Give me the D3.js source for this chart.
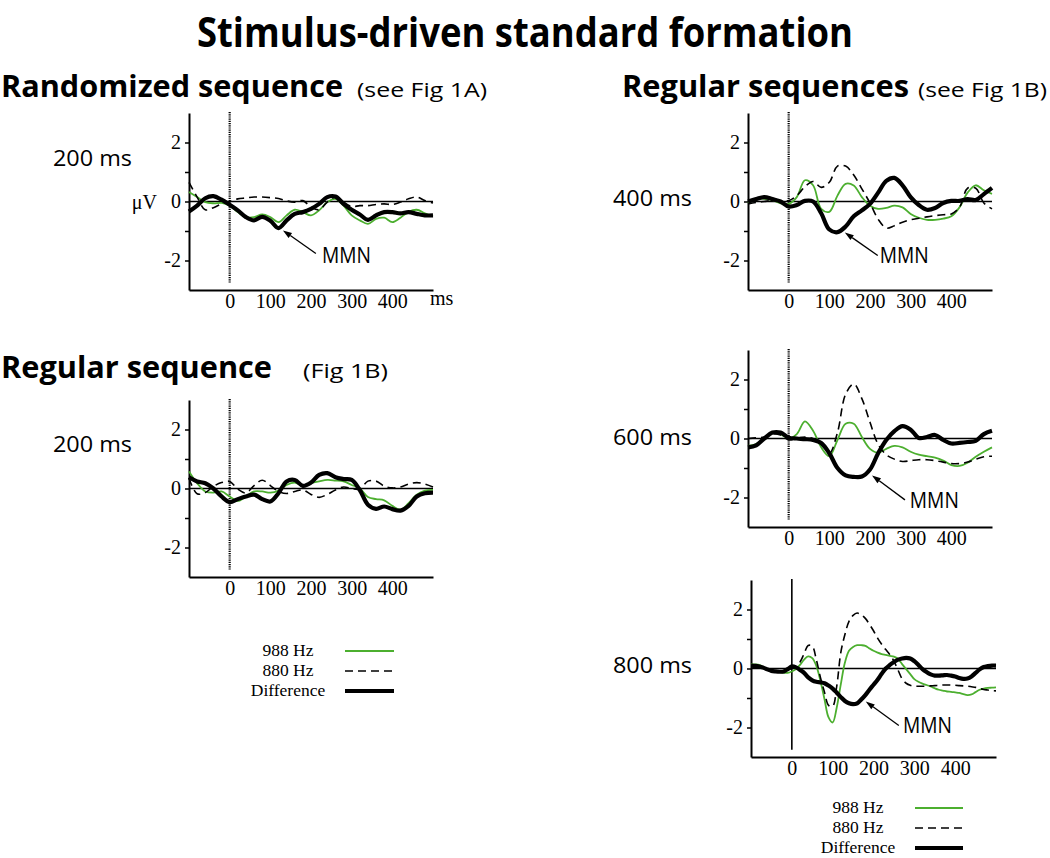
<!DOCTYPE html>
<html><head><meta charset="utf-8">
<script src="https://cdn.jsdelivr.net/npm/d3@7"></script>
<style>body{margin:0;background:#fff;} svg{display:block;}</style>
</head><body>
<svg id="chart" width="1050" height="858"></svg>
<script>
// ---------- data ----------
const t20 = [-100,-80,-60,-40,-20,0,20,40,60,80,100,120,140,160,180,200,220,240,260,280,300,320,340,360,380,400,420,440,460,480,500];
const t10 = [-100,-90,-80,-70,-60,-50,-40,-30,-20,-10,0,10,20,30,40,50,60,70,80,90,100,110,120,130,140,150,160,170,180,190,200,210,220,230,240,250,260,270,280,290,300,310,320,330,340,350,360,370,380,390,400,410,420,430,440,450,460,470,480,490,500];

const xTickValues = [0,100,200,300,400];
const yTickValues = [-2,-1,0,1,2];
const yTickLabels = ["-2","","0","","2"];

// Randomized sequence, 200 ms
const rand200_988 = [0.32,0.15,-0.02,-0.06,-0.05,-0.14,-0.36,-0.53,-0.53,-0.44,-0.53,-0.7,-0.47,-0.28,-0.36,-0.47,-0.3,-0.02,0.09,-0.14,-0.47,-0.64,-0.76,-0.59,-0.55,-0.7,-0.55,-0.35,-0.28,-0.4,-0.5];
const rand200_880 = [0.65,0.15,-0.28,-0.21,-0.08,0.0,0.09,0.12,0.15,0.15,0.13,0.1,0.02,-0.02,0.03,-0.19,-0.28,-0.02,0.15,-0.02,-0.17,-0.14,-0.14,-0.1,-0.08,-0.1,-0.02,0.09,0.15,0.03,-0.05];
const rand200_diff = [-0.34,-0.14,0.11,0.18,0.06,-0.11,-0.3,-0.53,-0.64,-0.52,-0.65,-0.9,-0.64,-0.42,-0.36,-0.25,-0.08,0.15,0.17,-0.08,-0.28,-0.44,-0.62,-0.47,-0.36,-0.36,-0.4,-0.36,-0.42,-0.47,-0.47];

// Regular sequence, 200 ms
const reg200_988 = [0.58,0.18,-0.1,-0.14,-0.1,-0.27,-0.42,-0.27,-0.1,-0.1,-0.14,-0.07,0.12,0.2,0.09,0.18,0.24,0.29,0.27,0.24,0.12,0.0,-0.29,-0.36,-0.4,-0.59,-0.72,-0.5,-0.21,-0.07,-0.05];
const reg200_880 = [0.35,-0.18,-0.14,0.07,0.2,0.24,-0.02,-0.15,0.1,0.28,0.1,-0.1,-0.17,-0.1,-0.05,-0.2,-0.3,-0.2,-0.05,0.05,0.0,-0.02,0.25,0.25,0.08,0.02,0.05,0.15,0.2,0.15,0.05];
const reg200_diff = [0.38,0.24,0.18,0.0,-0.27,-0.46,-0.36,-0.27,-0.21,-0.36,-0.44,-0.16,0.24,0.29,0.09,0.2,0.46,0.52,0.38,0.32,0.29,-0.05,-0.55,-0.69,-0.61,-0.7,-0.75,-0.59,-0.27,-0.16,-0.14];

// Regular sequences, 400 ms
const reg400_988 = [-0.06,0.09,0.09,0.05,-0.06,-0.08,0.15,0.72,0.55,-0.25,-0.35,0.2,0.6,0.54,0.15,-0.14,-0.25,-0.22,-0.14,-0.2,-0.42,-0.55,-0.62,-0.62,-0.58,-0.5,-0.2,0.3,0.55,0.38,0.26];
const reg400_880 = [-0.08,-0.03,0.0,0.03,0.0,0.03,0.2,0.5,0.68,0.48,0.65,1.2,1.2,0.9,0.43,-0.05,-0.6,-0.9,-0.82,-0.7,-0.62,-0.57,-0.52,-0.48,-0.45,-0.42,-0.2,0.45,0.45,-0.05,-0.25];
const reg400_diff = [0.0,0.08,0.15,0.08,0.0,-0.17,-0.12,0.02,0.0,-0.4,-0.95,-1.04,-0.85,-0.5,-0.3,-0.08,0.3,0.7,0.8,0.55,0.15,-0.12,-0.28,-0.22,-0.05,0.02,0.02,0.08,0.05,0.25,0.46];

// Regular sequences, 600 ms
const reg600_988 = [-0.25,-0.19,0.03,0.2,0.15,0.0,0.15,0.58,0.26,-0.3,-0.6,-0.05,0.5,0.5,0.05,-0.35,-0.48,-0.35,-0.25,-0.3,-0.45,-0.55,-0.6,-0.65,-0.75,-0.9,-0.93,-0.82,-0.62,-0.45,-0.3];
const reg600_880 = [0.0,0.02,0.05,0.15,0.12,-0.05,0.0,0.05,0.0,-0.1,-0.5,0.2,1.5,1.85,1.35,0.55,-0.2,-0.55,-0.7,-0.78,-0.75,-0.72,-0.72,-0.75,-0.8,-0.85,-0.85,-0.8,-0.7,-0.62,-0.6];
const reg600_diff = [-0.3,-0.23,0.0,0.2,0.2,0.03,0.0,-0.02,-0.05,-0.15,-0.5,-1.0,-1.25,-1.3,-1.29,-1.05,-0.5,-0.05,0.25,0.42,0.3,0.02,0.05,0.12,-0.05,-0.17,-0.15,-0.12,-0.08,0.15,0.26];

// Regular sequences, 800 ms (10 ms grid)
const reg800_988 = [0.15,0.14,0.12,0.05,-0.03,-0.08,-0.1,-0.12,-0.14,-0.15,-0.1,-0.02,0.12,0.3,0.41,0.35,0.09,-0.42,-1.04,-1.66,-1.83,-1.32,-0.53,0.2,0.6,0.73,0.79,0.79,0.77,0.68,0.6,0.54,0.49,0.46,0.43,0.4,0.32,0.15,-0.02,-0.19,-0.36,-0.45,-0.51,-0.56,-0.61,-0.67,-0.72,-0.75,-0.78,-0.79,-0.81,-0.83,-0.87,-0.9,-0.88,-0.8,-0.72,-0.68,-0.66,-0.65,-0.64];
const reg800_880 = [0.08,0.08,0.05,0.0,-0.05,-0.08,-0.1,-0.1,-0.08,-0.03,0.0,0.1,0.22,0.5,0.78,0.76,0.3,-0.3,-0.8,-1.25,-1.28,-0.6,0.55,1.15,1.6,1.8,1.88,1.82,1.7,1.5,1.28,1.03,0.82,0.64,0.47,0.25,-0.05,-0.35,-0.5,-0.57,-0.6,-0.6,-0.6,-0.6,-0.59,-0.58,-0.57,-0.56,-0.56,-0.56,-0.57,-0.58,-0.59,-0.6,-0.62,-0.64,-0.68,-0.71,-0.73,-0.75,-0.76];
const reg800_diff = [0.1,0.09,0.07,0.03,-0.03,-0.08,-0.1,-0.11,-0.1,-0.02,0.07,0.04,-0.05,-0.15,-0.3,-0.4,-0.45,-0.47,-0.5,-0.58,-0.68,-0.82,-0.97,-1.1,-1.18,-1.21,-1.18,-1.05,-0.9,-0.72,-0.55,-0.38,-0.18,0.0,0.12,0.22,0.3,0.34,0.36,0.34,0.25,0.12,-0.02,-0.12,-0.2,-0.24,-0.24,-0.23,-0.22,-0.24,-0.27,-0.32,-0.35,-0.34,-0.27,-0.15,-0.03,0.05,0.08,0.1,0.1];

const legendLabels = ["988 Hz","880 Hz","Difference"];

// ---------- drawing ----------
const GREEN = "#4caf2f";
const SANS = "'Open Sans', 'Noto Sans', sans-serif";
const SERIF = "'Liberation Serif', 'Times New Roman', serif";
const svg = d3.select("#chart");

// headings
function heading(txt, x, y, size, weight, len) {
  svg.append("text").attr("x", x).attr("y", y)
    .attr("font-family", SANS).attr("font-size", size).attr("font-weight", weight)
    .attr("textLength", len).attr("lengthAdjust", "spacingAndGlyphs")
    .text(txt);
}
heading("Stimulus-driven standard formation", 197, 47, 41, 700, 656);
heading("Randomized sequence", 1, 97, 30, 700, 342);
heading("(see Fig 1A)", 357, 97, 20, 400, 130);
heading("Regular sequence", 1, 378, 30, 700, 271);
heading("(Fig 1B)", 303, 378, 20, 400, 85);
heading("Regular sequences", 622, 97, 30, 700, 287);
heading("(see Fig 1B)", 918, 97, 20, 400, 129);

const panels = [
  {label:"200 ms", lx:53, ly:166, x0:189, x1:433, yt:113, yb:290, t:t20, s988:rand200_988, s880:rand200_880, diff:rand200_diff,
   mmn:{head:[131,-0.98], tail:[212,-1.76], text:[227,-2.1]}, units:true, dotted:true},
  {label:"200 ms", lx:53, ly:452, x0:189, x1:433, yt:400, yb:577, t:t20, s988:reg200_988, s880:reg200_880, diff:reg200_diff,
   mmn:null, units:false, dotted:true},
  {label:"400 ms", lx:613, ly:206, x0:748, x1:992, yt:113, yb:290, t:t20, s988:reg400_988, s880:reg400_880, diff:reg400_diff,
   mmn:{head:[138,-1.05], tail:[219,-1.83], text:[224,-2.1]}, units:false, dotted:true},
  {label:"600 ms", lx:613, ly:445, x0:748, x1:992, yt:350, yb:527, t:t20, s988:reg600_988, s880:reg600_880, diff:reg600_diff,
   mmn:{head:[205,-1.25], tail:[286,-2.08], text:[298,-2.34]}, units:false, dotted:true},
  {label:"800 ms", lx:613, ly:673, x0:751, x1:996, yt:580, yb:757, t:t10, s988:reg800_988, s880:reg800_880, diff:reg800_diff,
   mmn:{head:[181,-1.12], tail:[262,-1.93], text:[272,-2.2]}, units:false, dotted:false}
];

panels.forEach(p => {
  const x = d3.scaleLinear().domain([-100, 500]).range([p.x0, p.x1]);
  const y = d3.scaleLinear().domain([-3, 3]).range([p.yb, p.yt]);
  const g = svg.append("g");

  // condition label
  g.append("text").attr("x", p.lx).attr("y", p.ly)
    .attr("font-family", SANS).attr("font-size", 22)
    .attr("textLength", 79).attr("lengthAdjust", "spacingAndGlyphs").text(p.label);

  // zero line
  g.append("line").attr("x1", x(-100)).attr("x2", x(500)).attr("y1", y(0)).attr("y2", y(0))
    .attr("stroke", "#000").attr("stroke-width", 1.6);
  // stimulus onset line
  g.append("line").attr("x1", x(0)).attr("x2", x(0)).attr("y1", y(3) - 1).attr("y2", y(-2.75))
    .attr("stroke", "#000").attr("stroke-width", p.dotted ? 2.2 : 1.6)
    .attr("stroke-dasharray", p.dotted ? "1.2,1" : null);

  // y axis
  const ya = g.append("g").attr("transform", `translate(${x(-100)},0)`)
    .call(d3.axisLeft(y).tickValues(yTickValues).tickSize(4).tickSizeOuter(0).tickPadding(4)
      .tickFormat((d, i) => yTickLabels[i]));
  ya.select(".domain").attr("stroke-width", 2);
  ya.selectAll(".tick line").attr("stroke-width", 1.5);
  ya.selectAll("text").attr("font-family", SERIF).attr("font-size", 20);

  // x axis
  const xa = g.append("g").attr("transform", `translate(0,${y(-3)})`)
    .call(d3.axisBottom(x).tickValues(xTickValues).tickSize(0).tickSizeOuter(0).tickPadding(4));
  xa.select(".domain").attr("stroke-width", 2);
  xa.selectAll("text").attr("font-family", SERIF).attr("font-size", 20);

  if (p.units) {
    g.append("text").attr("x", x(-100) - 32).attr("y", y(0) + 7).attr("text-anchor", "end")
      .attr("font-family", SERIF).attr("font-size", 20).text("\u03BCV");
    g.append("text").attr("x", x(500) - 3).attr("y", y(-3) + 15)
      .attr("font-family", SERIF).attr("font-size", 20).text("ms");
  }

  const line = vals => d3.line().x((d, i) => x(p.t[i])).y(d => y(d)).curve(d3.curveCatmullRom.alpha(0.5))(vals);
  g.append("path").attr("d", line(p.s988)).attr("fill", "none").attr("stroke", GREEN).attr("stroke-width", 1.8);
  g.append("path").attr("d", line(p.s880)).attr("fill", "none").attr("stroke", "#000").attr("stroke-width", 1.6)
    .attr("stroke-dasharray", "8,5");
  g.append("path").attr("d", line(p.diff)).attr("fill", "none").attr("stroke", "#000").attr("stroke-width", 4.2)
    .attr("stroke-linejoin", "round");

  if (p.mmn) {
    const hx = x(p.mmn.head[0]), hy = y(p.mmn.head[1]);
    const tx = x(p.mmn.tail[0]), ty = y(p.mmn.tail[1]);
    const ang = Math.atan2(hy - ty, hx - tx);
    const L = 9, W = 3;
    const bx = hx - L * Math.cos(ang), by = hy - L * Math.sin(ang);
    g.append("line").attr("x1", tx).attr("y1", ty).attr("x2", bx).attr("y2", by)
      .attr("stroke", "#000").attr("stroke-width", 1.3);
    g.append("path").attr("d",
      `M${hx},${hy}L${bx + W * Math.sin(ang)},${by - W * Math.cos(ang)}L${bx - W * Math.sin(ang)},${by + W * Math.cos(ang)}Z`)
      .attr("fill", "#000");
    g.append("text").attr("x", x(p.mmn.text[0])).attr("y", y(p.mmn.text[1]))
      .attr("font-family", SANS).attr("font-size", 21)
      .attr("textLength", 49).attr("lengthAdjust", "spacingAndGlyphs").text("MMN");
  }
});

// legends
function legend(cx, lx0, lx1, y0) {
  const styles = [
    {stroke: GREEN, w: 1.8, dash: null},
    {stroke: "#000", w: 1.5, dash: "8,5"},
    {stroke: "#000", w: 4.2, dash: null}
  ];
  const g = svg.append("g");
  legendLabels.forEach((lab, i) => {
    const by = y0 + i * 20;
    g.append("text").attr("x", cx).attr("y", by).attr("text-anchor", "middle")
      .attr("font-family", SERIF).attr("font-size", 17.5).text(lab);
    g.append("line").attr("x1", lx0).attr("x2", lx1).attr("y1", by - 5).attr("y2", by - 5)
      .attr("stroke", styles[i].stroke).attr("stroke-width", styles[i].w)
      .attr("stroke-dasharray", styles[i].dash);
  });
}
legend(288, 345, 394, 656);
legend(858, 915, 963, 813);
</script>
</body></html>
